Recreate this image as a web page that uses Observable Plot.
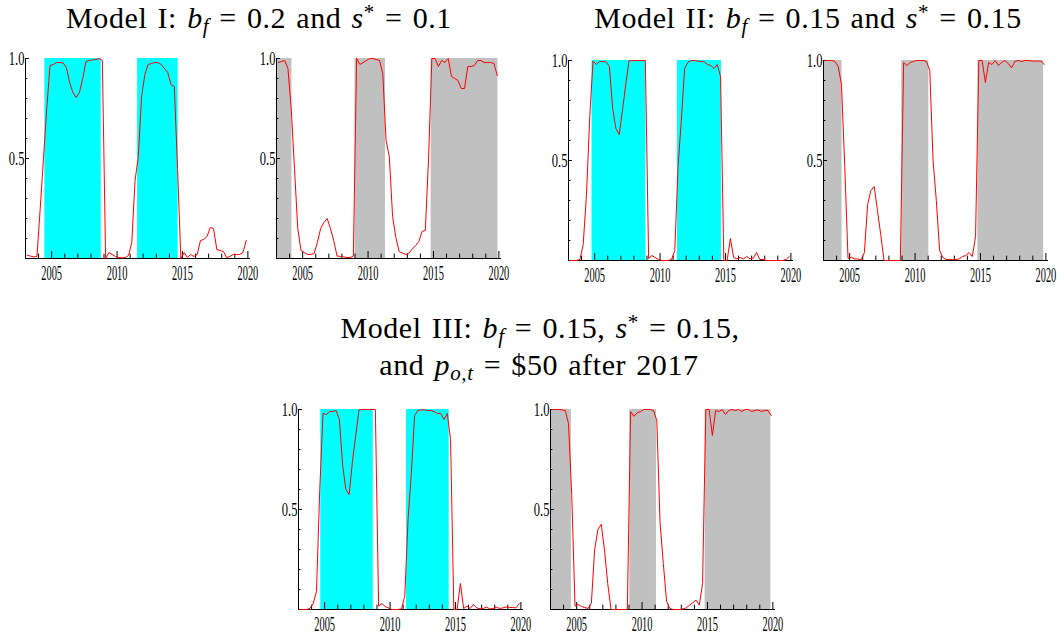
<!DOCTYPE html>
<html><head><meta charset="utf-8">
<script src="https://cdn.jsdelivr.net/npm/d3@7"></script>
<script src="https://cdn.jsdelivr.net/npm/@observablehq/plot@0.6"></script>
<style>
body{margin:0;background:#fff;}
#root{position:relative;width:1061px;height:639px;overflow:hidden;background:#fff;font-family:"Liberation Serif",serif;}
.panel{position:absolute;}
.title{position:absolute;white-space:nowrap;font-size:30px;line-height:30px;letter-spacing:0.6px;word-spacing:2px;color:#000;transform:translateX(-50%);text-align:center;}
.title .sb{font-size:0.7em;vertical-align:-0.25em;line-height:0;}
.title .sp{font-size:0.7em;vertical-align:0.45em;line-height:0;}
</style></head>
<body><div id="root"></div>
<script>
// quarterly observation times (mid-quarter)
const quarters = [
 2003.125,2003.375,2003.625,2003.875, 2004.125,2004.375,2004.625,2004.875,
 2005.125,2005.375,2005.625,2005.875, 2006.125,2006.375,2006.625,2006.875,
 2007.125,2007.375,2007.625,2007.875, 2008.125,2008.375,2008.625,2008.875,
 2009.125,2009.375,2009.625,2009.875, 2010.125,2010.375,2010.625,2010.875,
 2011.125,2011.375,2011.625,2011.875, 2012.125,2012.375,2012.625,2012.875,
 2013.125,2013.375,2013.625,2013.875, 2014.125,2014.375,2014.625,2014.875,
 2015.125,2015.375,2015.625,2015.875, 2016.125,2016.375,2016.625,2016.875,
 2017.125,2017.375,2017.625,2017.875, 2018.125,2018.375,2018.625,2018.875,
 2019.125,2019.375,2019.625,2019.875];

// Model I
const m1Left = [0.017,0.012,0.008,0.01,0.25,0.5,0.75,0.965,
 0.97,0.98,0.98,0.978,0.955,0.88,0.83,0.805,
 0.83,0.9,0.985,0.99,0.993,0.995,1.0,0.99,
 0.0,0.03,0.02,0.01,0.005,0.003,0.005,0.015,
 0.08,0.39,0.51,0.81,0.92,0.97,0.975,0.98,
 0.98,0.97,0.95,0.93,0.87,0.86,0.45,0.0,
 0.03,0.005,0.02,0.01,0.02,0.09,0.095,0.11,
 0.155,0.15,0.045,0.04,0.035,0.005,0.01,0.02,
 0.02,0.02,0.03,0.09];
const m1Right = [0.98,0.985,0.99,0.95,0.75,0.45,0.15,0.04,
 0.03,0.02,0.02,0.025,0.08,0.15,0.18,0.2,
 0.15,0.09,0.013,0.01,0.008,0.005,0.005,0.012,
 1.0,0.97,0.98,0.99,1.0,1.0,0.995,0.99,
 0.925,0.59,0.51,0.21,0.105,0.035,0.027,0.02,
 0.027,0.047,0.064,0.084,0.135,0.14,0.5,1.0,
 1.0,0.96,0.99,0.98,1.0,0.91,0.9,0.89,
 0.85,0.85,0.96,0.96,0.965,0.99,0.99,0.98,
 0.98,0.98,0.975,0.915];
// Model II
const m2Left = [0,0,0,0.005,0.08,0.33,0.72,0.997,
 0.98,0.995,0.995,0.993,0.97,0.76,0.66,0.63,
 0.75,0.88,0.998,1.0,1.0,1.0,1.0,1.0,
 0.01,0.025,0.015,0.005,0,0,0,0.005,
 0.05,0.47,0.7,0.96,0.99,1.0,1.0,0.997,
 0.995,0.993,0.98,0.975,0.96,0.98,0.92,0.0,
 0.0,0.11,0.015,0.008,0.015,0.008,0.02,0.008,
 0.012,0.04,0.005,0.005,0,0,0,0,
 0,0,0.005,0.02];
const m2Right = [1.0,1.0,1.0,0.995,0.97,0.88,0.47,0.01,
 0.017,0.008,0.008,0.003,0.04,0.28,0.35,0.37,
 0.25,0.13,0,0,0,0,0,0,
 0.99,0.975,0.99,0.995,1.0,1.0,1.0,0.995,
 0.95,0.5,0.3,0.05,0.015,0.005,0.005,0.005,
 0.005,0.008,0.02,0.025,0.04,0.02,0.12,1.0,
 1.0,0.89,0.99,0.98,1.0,0.975,0.99,1.0,
 0.985,0.963,0.995,1.0,0.995,1.0,1.0,0.998,
 0.997,0.997,0.997,0.98];
// Model III
const m3Left = [0,0,0,0.005,0.03,0.09,0.6,0.98,
 0.975,0.99,0.99,0.995,0.95,0.72,0.6,0.575,
 0.74,0.87,0.998,1.0,1.0,1.0,1.0,1.0,
 0.017,0.03,0.015,0.008,0,0,0,0.003,
 0.067,0.45,0.68,0.97,0.995,0.998,0.998,0.995,
 0.995,0.99,0.98,0.98,0.95,0.98,0.85,0.0,
 0.0,0.13,0.005,0.017,0.005,0.025,0.008,0.003,
 0.005,0.012,0.003,0.005,0.012,0.005,0.008,0.013,
 0.01,0.01,0.008,0.03];
const m3Right = [1.0,1.0,1.0,0.998,0.995,0.93,0.57,0.017,
 0.025,0.015,0.01,0.005,0.033,0.3,0.4,0.426,
 0.3,0.13,0,0,0,0,0,0,
 0.99,0.966,0.983,0.99,1.0,1.0,1.0,0.995,
 0.945,0.435,0.23,0.04,0.005,0,0,0,
 0.003,0.008,0.022,0.033,0.047,0.022,0.13,1.0,
 1.0,0.87,0.995,0.99,1.0,0.975,0.995,1.0,
 0.995,1.0,0.99,1.0,1.0,0.99,0.995,0.998,
 0.99,0.995,0.995,0.97];

// shaded regime periods
const m1CyanStart = [2004.48, 2011.57], m1CyanEnd = [2008.79, 2014.67];
const m1GrayStart = [2003.0, 2009.0, 2014.82], m1GrayEnd = [2004.18, 2011.33, 2019.93];
const m2CyanStart = [2004.8, 2011.33], m2CyanEnd = [2008.92, 2014.69];
const m2GrayStart = [2003.0, 2008.98, 2014.8], m2GrayEnd = [2004.42, 2011.05, 2019.83];
const m3CyanStart = [2004.7, 2011.26], m3CyanEnd = [2008.72, 2014.52];
const m3GrayStart = [2003.0, 2009.06, 2014.82], m3GrayEnd = [2004.6, 2011.1, 2019.85];

// axis ticks
const xDomain = [2003, 2020.2];
const xMajorTicks = [2005, 2010, 2015, 2020];
const xMinorTicks = [2004,2006,2007,2008,2009,2011,2012,2013,2014,2016,2017,2018,2019];
const yMajorTicks = [0.5, 1.0];
const yMinorTicks = [0.1,0.2,0.3,0.4,0.6,0.7,0.8,0.9];

const root = document.getElementById("root");
const MT = 12, MB = 34;

function makePanel(series, starts, ends, fill, left, plotTop) {
  const pts = quarters.map((q, i) => ({q, v: series[i]}));
  const bands = starts.map((s, i) => ({s, e: ends[i]}));
  const svg = Plot.plot({
    width: 259, height: MT + 200 + MB,
    marginLeft: 24, marginRight: 10, marginTop: MT, marginBottom: MB,
    x: {domain: xDomain, label: null},
    y: {domain: [0, 1], label: null},
    style: {background: "transparent", fontFamily: "Liberation Serif, serif", color: "#000", overflow: "visible"},
    marks: [
      Plot.rect(bands, {x1: "s", x2: "e", y1: 0, y2: 1, fill}),
      Plot.ruleY([0], {stroke: "#000", strokeWidth: 1}),
      Plot.ruleX([xDomain[0]], {stroke: "#000", strokeWidth: 1}),
      Plot.ruleX(xMajorTicks, {y1: 0, y2: 0.035, stroke: "#000"}),
      Plot.ruleX(xMinorTicks, {y1: 0, y2: 0.022, stroke: "#000"}),
      Plot.ruleY(yMajorTicks, {x1: xDomain[0], x2: xDomain[0] + 0.3, stroke: "#000"}),
      Plot.ruleY(yMinorTicks, {x1: xDomain[0], x2: xDomain[0] + 0.18, stroke: "#000"}),
      Plot.line(pts, {x: "q", y: "v", stroke: "#ff0000", strokeWidth: 1}),
      Plot.axisX({ticks: xMajorTicks, tickSize: 0, tickPadding: 7, tickFormat: d => String(d), fontSize: 20, label: null}),
      Plot.axisY({ticks: yMajorTicks, tickSize: 0, tickPadding: 1, tickFormat: d => d.toFixed(1), fontSize: 19, label: null})
    ]
  });
  svg.querySelectorAll('g[aria-label="x-axis tick label"] text').forEach(t => {
    t.setAttribute("transform", (t.getAttribute("transform") || "") + " scale(0.52,1)");
  });
  svg.querySelectorAll('g[aria-label="y-axis tick label"] text').forEach(t => {
    t.setAttribute("transform", (t.getAttribute("transform") || "") + " scale(0.66,1)");
  });
  const div = document.createElement("div");
  div.className = "panel";
  div.style.left = left + "px";
  div.style.top = (plotTop - MT) + "px";
  div.appendChild(svg);
  root.appendChild(div);
}

makePanel(m1Left, m1CyanStart, m1CyanEnd, "#00ffff", 1, 58);
makePanel(m1Right, m1GrayStart, m1GrayEnd, "#c0c0c0", 252, 58);
makePanel(m2Left, m2CyanStart, m2CyanEnd, "#00ffff", 544, 60);
makePanel(m2Right, m2GrayStart, m2GrayEnd, "#c0c0c0", 799, 60);
makePanel(m3Left, m3CyanStart, m3CyanEnd, "#00ffff", 274, 409);
makePanel(m3Right, m3GrayStart, m3GrayEnd, "#c0c0c0", 526, 409);

function addTitle(html, cx, top) {
  const d = document.createElement("div");
  d.className = "title";
  d.style.left = cx + "px";
  d.style.top = top + "px";
  d.innerHTML = html;
  root.appendChild(d);
}
addTitle('Model I: <i>b</i><span class="sb"><i>f</i></span> = 0.2 and <i>s</i><span class="sp">*</span> = 0.1', 259, 3);
addTitle('Model II: <i>b</i><span class="sb"><i>f</i></span> = 0.15 and <i>s</i><span class="sp">*</span> = 0.15', 808, 3);
addTitle('Model III: <i>b</i><span class="sb"><i>f</i></span> = 0.15, <i>s</i><span class="sp">*</span> = 0.15,', 540, 313);
addTitle('and <i>p</i><span class="sb"><i>o</i>,<i>t</i></span> = $50 after 2017', 539, 350);
</script>
</body></html>
